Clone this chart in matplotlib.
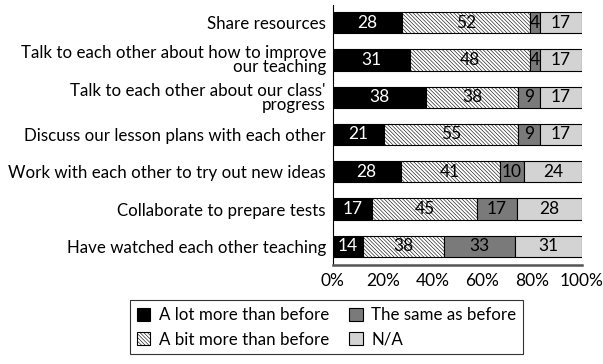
import matplotlib.pyplot as plt
import numpy as np

plt.rcParams['font.family'] = ['Lato', 'DejaVu Sans']
plt.rcParams['hatch.linewidth'] = 0.4

questions = [
    "Share resources",
    "Talk to each other about how to improve\nour teaching",
    "Talk to each other about our class'\nprogress",
    "Discuss our lesson plans with each other",
    "Work with each other to try out new ideas",
    "Collaborate to prepare tests",
    "Have watched each other teaching",
]
a_lot_more = [28, 31, 38, 21, 28, 17, 14]
a_bit_more = [52, 48, 38, 55, 41, 45, 38]
same = [4, 4, 9, 9, 10, 17, 33]
n_a = [17, 17, 17, 17, 24, 28, 31]

series = [
    ("A lot more than before", a_lot_more, 'black', None, 'white'),
    ("A bit more than before", a_bit_more, 'white', '\\' * 9, 'black'),
    ("The same as before", same, '#7a7a7a', None, 'black'),
    ("N/A", n_a, '#d3d3d3', None, 'black'),
]

# each row is scaled to 100% of its total
vals = np.array([s[1] for s in series], dtype=float)
totals = vals.sum(axis=0)
shares = vals / totals * 100

fig = plt.figure(figsize=(6.03, 3.64), dpi=100)
ax = fig.add_axes([0.552, 0.272, 0.413, 0.714])

y = np.arange(len(questions))
left = np.zeros(len(questions))
handles = {}
for (name, v, color, hatch, tcolor), share in zip(series, shares):
    bars = ax.barh(y, share, left=left, height=0.57, color=color,
                   edgecolor='black', linewidth=0.8, hatch=hatch, label=name)
    handles[name] = bars
    for yi, l, w, lab in zip(y, left, share, v):
        ax.text(l + w / 2, yi, str(lab), ha='center', va='center',
                color=tcolor, fontsize=12.5)
    left += share

ax.set_xlim(0, 100)
ax.set_ylim(len(questions) - 0.5, -0.47)
ax.set_yticks(y)
ax.set_yticklabels(questions, fontsize=12.2, linespacing=0.85)
ax.set_xticks(np.arange(0, 101, 20))
ax.set_xticklabels([f"{t}%" for t in range(0, 101, 20)], fontsize=12.5)
ax.tick_params(axis='both', length=0)
ax.tick_params(axis='y', pad=5)
ax.tick_params(axis='x', pad=6)

for s in ['top', 'right']:
    ax.spines[s].set_visible(False)
ax.spines['left'].set_color('black')
ax.spines['left'].set_linewidth(0.8)
ax.spines['bottom'].set_color('#555555')
ax.spines['bottom'].set_linewidth(1.8)

order = ["A lot more than before", "A bit more than before",
         "The same as before", "N/A"]
leg = fig.legend([handles[k] for k in order], order, ncol=2,
                 loc='upper center', bbox_to_anchor=(0.5415, 0.175),
                 fontsize=12.2, frameon=True, fancybox=False,
                 edgecolor='black', handlelength=0.8, handleheight=0.8,
                 handletextpad=0.5, columnspacing=1.2, borderpad=0.4,
                 borderaxespad=0, labelspacing=0.5)
leg.get_frame().set_linewidth(0.8)

fig.savefig('out.png', dpi=100)
